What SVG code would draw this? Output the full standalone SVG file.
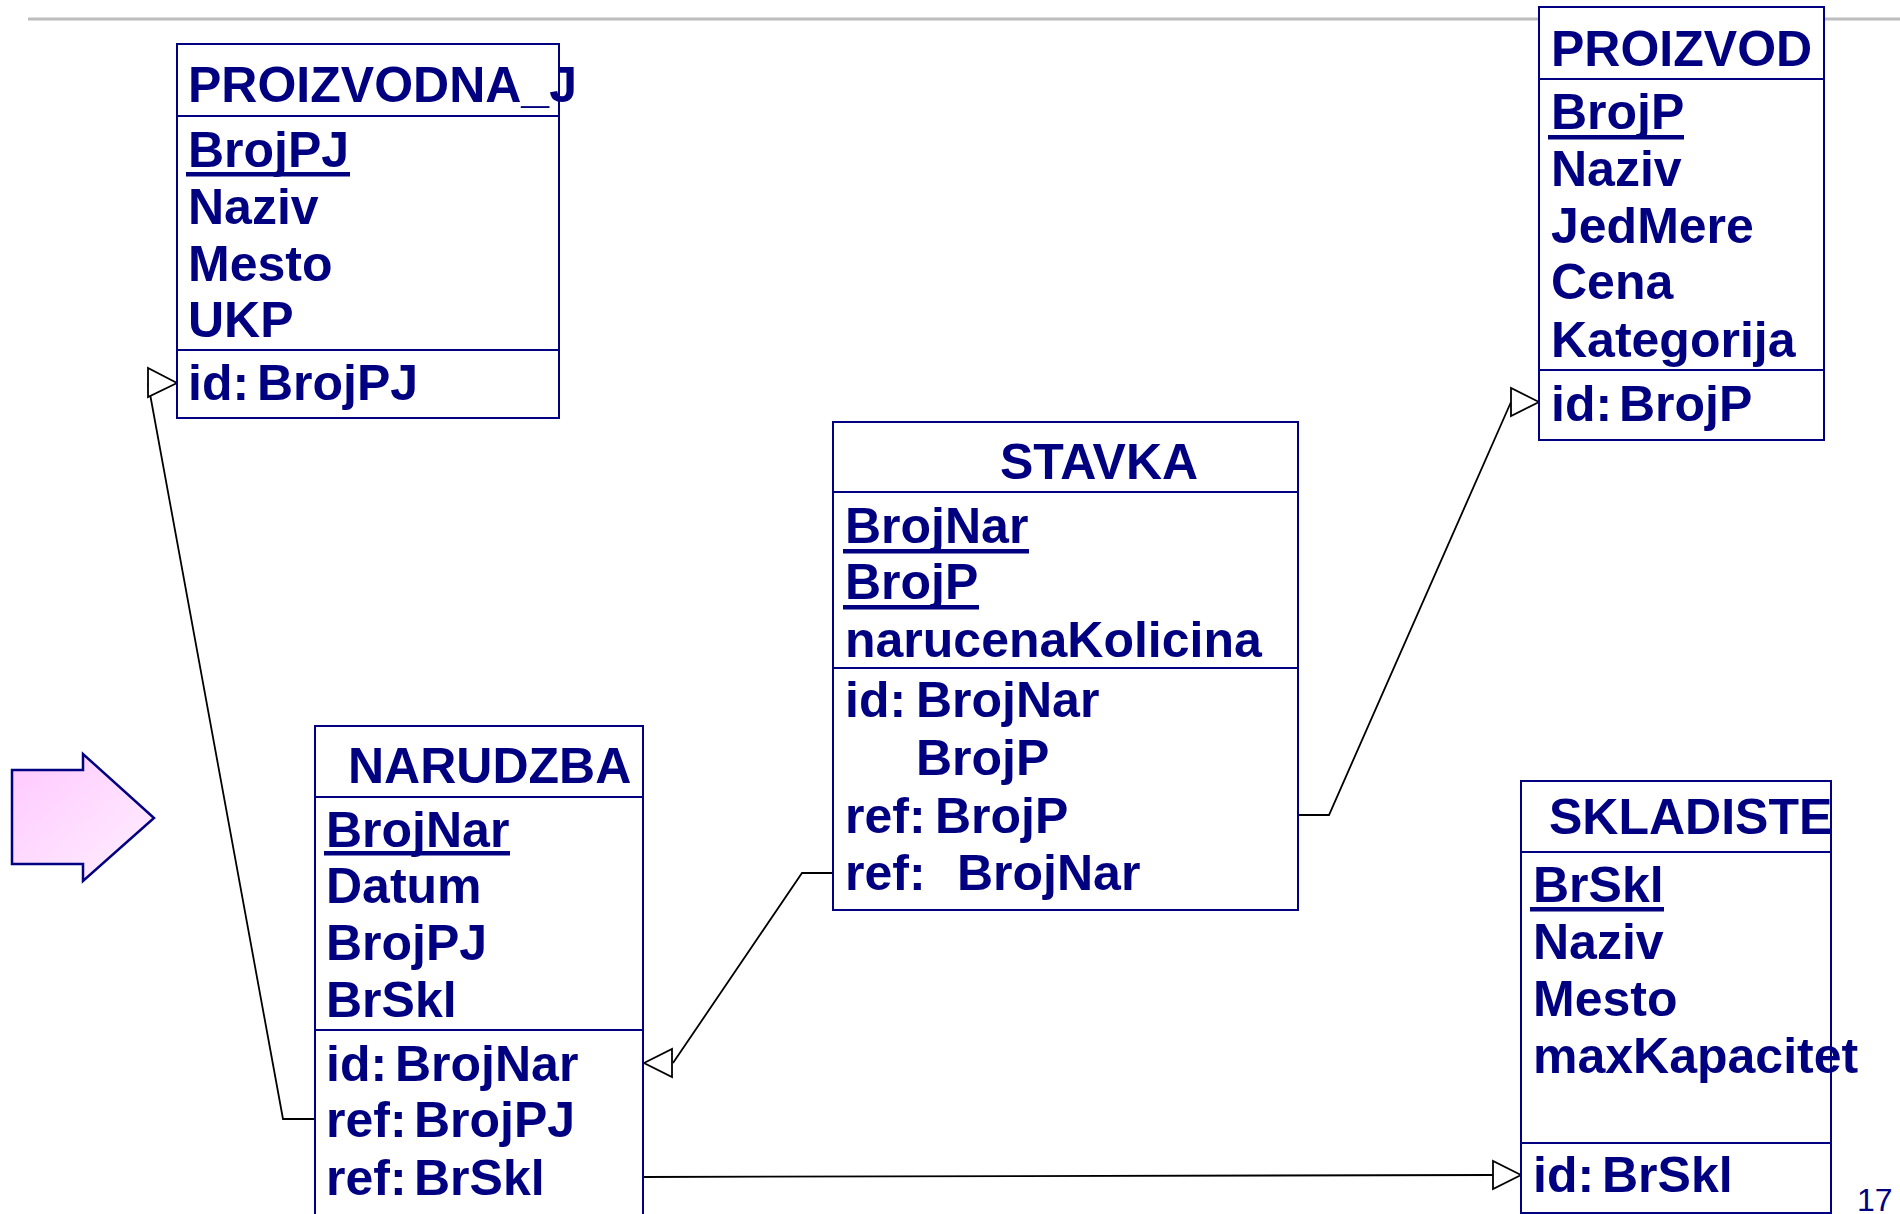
<svg xmlns="http://www.w3.org/2000/svg" width="1900" height="1214" viewBox="0 0 1900 1214">
<defs>
<linearGradient id="pink" x1="0" y1="0" x2="1" y2="1">
<stop offset="0" stop-color="#ffc8ff"/>
<stop offset="1" stop-color="#fff0ff"/>
</linearGradient>
<style>
.box{fill:#ffffff;stroke:#000080;stroke-width:2}
.div{stroke:#000080;stroke-width:2}
.t{font-family:"Liberation Sans",Arial,Helvetica,sans-serif;font-weight:bold;font-size:50px;fill:#000080}
.ul{fill:#000080}
.con{fill:none;stroke:#000000;stroke-width:1.8}
.head{fill:#ffffff;stroke:#000000;stroke-width:1.8}
</style>
</defs>
<rect width="1900" height="1214" fill="#ffffff"/>
<line x1="28" y1="19" x2="1900" y2="19" stroke="#bdbdbd" stroke-width="3"/>

<g id="arrow-shape">
<polygon points="12,770 83,770 83,754 154,818 83,881 83,864 12,864" fill="url(#pink)" stroke="#000080" stroke-width="2.5"/>
</g>

<g id="connectors">
<polyline class="con" points="315,1119 283,1119 148,383"/>
<polygon class="head" points="177,383 148,368 148,397"/>
<polyline class="con" points="833,873 802,873 673,1063"/>
<polygon class="head" points="644,1063 672,1049 672,1077"/>
<polyline class="con" points="1298,815 1329,815 1511,402"/>
<polygon class="head" points="1539,402 1511,388 1511,416"/>
<polyline class="con" points="643,1177 1493,1175"/>
<polygon class="head" points="1521,1175 1493,1161 1493,1189"/>
</g>

<g id="PROIZVODNA_J">
<rect class="box" x="177" y="44" width="382" height="374"/>
<line class="div" x1="177" y1="116" x2="559" y2="116"/>
<line class="div" x1="177" y1="350" x2="559" y2="350"/>
<text class="t" x="188" y="102">PROIZVODNA_J</text>
<text class="t" x="188" y="167">BrojPJ</text>
<rect class="ul" x="186" y="172" width="164" height="4.5"/>
<text class="t" x="188" y="224">Naziv</text>
<text class="t" x="188" y="281">Mesto</text>
<text class="t" x="188" y="337">UKP</text>
<text class="t" x="188" y="400">id:<tspan x="257">BrojPJ</tspan></text>
</g>

<g id="PROIZVOD">
<rect class="box" x="1539" y="7" width="285" height="433"/>
<line class="div" x1="1539" y1="79" x2="1824" y2="79"/>
<line class="div" x1="1539" y1="370" x2="1824" y2="370"/>
<text class="t" x="1551" y="66">PROIZVOD</text>
<text class="t" x="1551" y="129">BrojP</text>
<rect class="ul" x="1548" y="135" width="136" height="4.5"/>
<text class="t" x="1551" y="186">Naziv</text>
<text class="t" x="1551" y="243">JedMere</text>
<text class="t" x="1551" y="299">Cena</text>
<text class="t" x="1551" y="357">Kategorija</text>
<text class="t" x="1551" y="421">id:<tspan x="1619">BrojP</tspan></text>
</g>

<g id="STAVKA">
<rect class="box" x="833" y="422" width="465" height="488"/>
<line class="div" x1="833" y1="492" x2="1298" y2="492"/>
<line class="div" x1="833" y1="668" x2="1298" y2="668"/>
<text class="t" x="1000" y="479">STAVKA</text>
<text class="t" x="845" y="543">BrojNar</text>
<rect class="ul" x="843" y="549" width="186" height="4.5"/>
<text class="t" x="845" y="599">BrojP</text>
<rect class="ul" x="843" y="605" width="136" height="4.5"/>
<text class="t" x="845" y="657">narucenaKolicina</text>
<text class="t" x="845" y="717">id:<tspan x="916">BrojNar</tspan></text>
<text class="t" x="916" y="775">BrojP</text>
<text class="t" x="845" y="833">ref:<tspan x="935">BrojP</tspan></text>
<text class="t" x="845" y="890">ref:<tspan x="957">BrojNar</tspan></text>
</g>

<g id="NARUDZBA">
<rect class="box" x="315" y="726" width="328" height="490"/>
<line class="div" x1="315" y1="797" x2="643" y2="797"/>
<line class="div" x1="315" y1="1030" x2="643" y2="1030"/>
<text class="t" x="348" y="783">NARUDZBA</text>
<text class="t" x="326" y="847">BrojNar</text>
<rect class="ul" x="324" y="851" width="186" height="4.5"/>
<text class="t" x="326" y="903">Datum</text>
<text class="t" x="326" y="960">BrojPJ</text>
<text class="t" x="326" y="1017">BrSkl</text>
<text class="t" x="326" y="1081">id:<tspan x="395">BrojNar</tspan></text>
<text class="t" x="326" y="1137">ref:<tspan x="414">BrojPJ</tspan></text>
<text class="t" x="326" y="1195">ref:<tspan x="414">BrSkl</tspan></text>
</g>

<g id="SKLADISTE">
<rect class="box" x="1521" y="781" width="310" height="432"/>
<line class="div" x1="1521" y1="852" x2="1831" y2="852"/>
<line class="div" x1="1521" y1="1143" x2="1831" y2="1143"/>
<text class="t" x="1549" y="834">SKLADISTE</text>
<text class="t" x="1533" y="902">BrSkl</text>
<rect class="ul" x="1530" y="907" width="134" height="4.5"/>
<text class="t" x="1533" y="959">Naziv</text>
<text class="t" x="1533" y="1016">Mesto</text>
<text class="t" x="1533" y="1073">maxKapacitet</text>
<text class="t" x="1533" y="1192">id:<tspan x="1602">BrSkl</tspan></text>
</g>

<text x="1857" y="1211" font-family="'Liberation Sans',Arial,sans-serif" font-size="32" fill="#000080">17</text>
</svg>
